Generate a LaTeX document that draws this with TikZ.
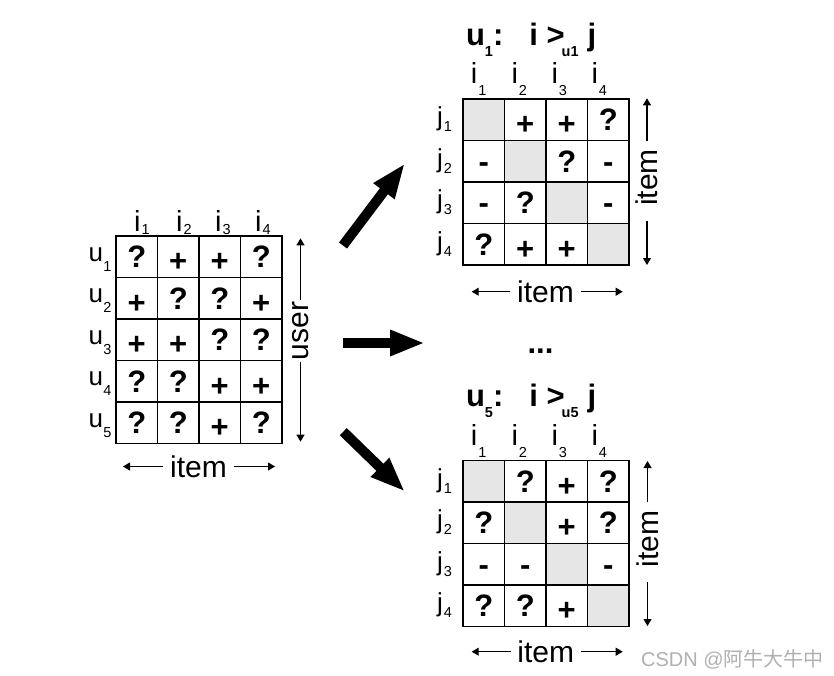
\documentclass[tikz,border=0pt]{standalone}
\usepackage{fontspec}
\setmainfont{Liberation Sans}
\newfontfamily\cjk{Noto Sans CJK SC}
\usetikzlibrary{arrows.meta}
\definecolor{ce6e6e6}{RGB}{230,230,230}
\definecolor{cb0b0b0}{RGB}{176,176,176}
\newcommand{\lsub}[2]{\raisebox{-#1pt}{\fontsize{14.5}{14.5}\selectfont #2}}
\newcommand{\pls}{\raisebox{-4pt}{+}}

\begin{document}
\begin{tikzpicture}[x=1pt,y=-1pt,
  collab/.style={inner sep=0pt,anchor=base west,font=\fontsize{29}{29}\selectfont},
  ulab/.style={inner sep=0pt,anchor=base west,font=\fontsize{26}{26}\selectfont},
  jlab/.style={inner sep=0pt,anchor=base west,font=\fontsize{26}{26}\selectfont},
  ttl/.style={inner sep=0pt,anchor=base west,font=\bfseries\fontsize{31}{31}\selectfont},
  axis/.style={inner sep=0pt,inner xsep=6.5pt,font=\fontsize{30}{30}\selectfont},
  axarr/.style={line width=1.1pt,-{Triangle[length=7pt,width=8pt]}},
  bigarr/.style={line width=10pt,-{Triangle[length=35pt,width=24pt]}}]

\path[fill=white,use as bounding box] (0,0) rectangle (834,676);

% user x item matrix
\begin{scope}[every node/.style={draw,minimum size=41.5pt,line width=1.1pt,inner sep=0pt,font=\bfseries\fontsize{31}{31}\selectfont,text height=22pt,text depth=0pt}]
\node (a11) at (136.75,256.75) {?};
\node (a12) at (178.25,256.75) {\pls};
\node (a13) at (219.75,256.75) {\pls};
\node (a14) at (261.25,256.75) {?};
\node (a21) at (136.75,298.25) {\pls};
\node (a22) at (178.25,298.25) {?};
\node (a23) at (219.75,298.25) {?};
\node (a24) at (261.25,298.25) {\pls};
\node (a31) at (136.75,339.75) {\pls};
\node (a32) at (178.25,339.75) {\pls};
\node (a33) at (219.75,339.75) {?};
\node (a34) at (261.25,339.75) {?};
\node (a41) at (136.75,381.25) {?};
\node (a42) at (178.25,381.25) {?};
\node (a43) at (219.75,381.25) {\pls};
\node (a44) at (261.25,381.25) {\pls};
\node (a51) at (136.75,422.75) {?};
\node (a52) at (178.25,422.75) {?};
\node (a53) at (219.75,422.75) {\pls};
\node (a54) at (261.25,422.75) {?};
\end{scope}

% u1: item x item
\begin{scope}[every node/.style={draw,minimum size=41.5pt,line width=1.1pt,inner sep=0pt,font=\bfseries\fontsize{31}{31}\selectfont,text height=22pt,text depth=0pt}]
\node[fill=ce6e6e6] (b11) at (483.75,119.75) {};
\node (b12) at (525.25,119.75) {\pls};
\node (b13) at (566.75,119.75) {\pls};
\node (b14) at (608.25,119.75) {?};
\node (b21) at (483.75,161.25) {-};
\node[fill=ce6e6e6] (b22) at (525.25,161.25) {};
\node (b23) at (566.75,161.25) {?};
\node (b24) at (608.25,161.25) {-};
\node (b31) at (483.75,202.75) {-};
\node (b32) at (525.25,202.75) {?};
\node[fill=ce6e6e6] (b33) at (566.75,202.75) {};
\node (b34) at (608.25,202.75) {-};
\node (b41) at (483.75,244.25) {?};
\node (b42) at (525.25,244.25) {\pls};
\node (b43) at (566.75,244.25) {\pls};
\node[fill=ce6e6e6] (b44) at (608.25,244.25) {};
\end{scope}

% u5: item x item
\begin{scope}[every node/.style={draw,minimum size=41.5pt,line width=1.1pt,inner sep=0pt,font=\bfseries\fontsize{31}{31}\selectfont,text height=22pt,text depth=0pt}]
\node[fill=ce6e6e6] (c11) at (483.75,481.25) {};
\node (c12) at (525.25,481.25) {?};
\node (c13) at (566.75,481.25) {\pls};
\node (c14) at (608.25,481.25) {?};
\node (c21) at (483.75,522.75) {?};
\node[fill=ce6e6e6] (c22) at (525.25,522.75) {};
\node (c23) at (566.75,522.75) {\pls};
\node (c24) at (608.25,522.75) {?};
\node (c31) at (483.75,564.25) {-};
\node (c32) at (525.25,564.25) {-};
\node[fill=ce6e6e6] (c33) at (566.75,564.25) {};
\node (c34) at (608.25,564.25) {-};
\node (c41) at (483.75,605.75) {?};
\node (c42) at (525.25,605.75) {?};
\node (c43) at (566.75,605.75) {\pls};
\node[fill=ce6e6e6] (c44) at (608.25,605.75) {};
\end{scope}

% column and row labels
\node[collab] (ai1) at (134,231.5) {i\kern1pt\lsub{3}{1}};
\node[collab] (ai2) at (176,231.5) {i\kern1pt\lsub{3}{2}};
\node[collab] (ai3) at (215,231.5) {i\kern1pt\lsub{3}{3}};
\node[collab] (ai4) at (255,231.5) {i\kern1pt\lsub{3}{4}};
\node[ulab] (au1) at (88.3,261.25) {u\kern0.5pt\lsub{10}{1}};
\node[ulab] (au2) at (88.3,302.75) {u\kern0.5pt\lsub{10}{2}};
\node[ulab] (au3) at (88.3,344.25) {u\kern0.5pt\lsub{10}{3}};
\node[ulab] (au4) at (88.3,385.75) {u\kern0.5pt\lsub{10}{4}};
\node[ulab] (au5) at (88.3,427.25) {u\kern0.5pt\lsub{10}{5}};

\node[collab] (bi1) at (470.7,83.3) {i\kern1pt\lsub{12.5}{1}};
\node[collab] (bi2) at (511.3,83.3) {i\kern1pt\lsub{12.5}{2}};
\node[collab] (bi3) at (551.3,83.3) {i\kern1pt\lsub{12.5}{3}};
\node[collab] (bi4) at (591.3,83.3) {i\kern1pt\lsub{12.5}{4}};
\node[jlab] (bj1) at (437,125.75) {j\kern1pt\lsub{6}{1}};
\node[jlab] (bj2) at (437,167.25) {j\kern1pt\lsub{6}{2}};
\node[jlab] (bj3) at (437,208.75) {j\kern1pt\lsub{6}{3}};
\node[jlab] (bj4) at (437,250.25) {j\kern1pt\lsub{6}{4}};

\node[collab] (ci1) at (470.7,445) {i\kern1pt\lsub{12.5}{1}};
\node[collab] (ci2) at (511.3,445) {i\kern1pt\lsub{12.5}{2}};
\node[collab] (ci3) at (551.3,445) {i\kern1pt\lsub{12.5}{3}};
\node[collab] (ci4) at (591.3,445) {i\kern1pt\lsub{12.5}{4}};
\node[jlab] (cj1) at (437,487.25) {j\kern1pt\lsub{6}{1}};
\node[jlab] (cj2) at (437,528.75) {j\kern1pt\lsub{6}{2}};
\node[jlab] (cj3) at (437,570.25) {j\kern1pt\lsub{6}{3}};
\node[jlab] (cj4) at (437,611.75) {j\kern1pt\lsub{6}{4}};

% titles
\node[ttl] (ttlb) at (465.8,46) {u\lsub{10.5}{1}:\hspace{26pt}i >\kern-3pt\lsub{10.5}{u1}\hspace{9pt}j};
\node[ttl] (ttlc) at (465.8,406.7) {u\lsub{11}{5}:\hspace{26pt}i >\kern-3pt\lsub{11}{u5}\hspace{9pt}j};
\node[inner sep=0pt,anchor=base,font=\bfseries\fontsize{31}{31}\selectfont] (dots) at (540.5,353) {...};

% axis labels
\node[axis] (itema) at (198.5,466.5) {item};
\coordinate (itemal) at (123,466.5);
\coordinate (itemar) at (275,466.5);
\draw[axarr] (itema.west) -- (itemal);
\draw[axarr] (itema.east) -- (itemar);

\node[axis,inner xsep=1.5pt,rotate=90] (user) at (300.5,330.85) {user};
\coordinate (usert) at (300.5,238.3);
\coordinate (userb) at (300.5,441.7);
\draw[axarr] (user.east) -- (usert);
\draw[axarr] (user.west) -- (userb);

\node[axis] (itemb) at (545.5,291.7) {item};
\coordinate (itembl) at (471.7,291.7);
\coordinate (itembr) at (622.7,291.7);
\draw[axarr] (itemb.west) -- (itembl);
\draw[axarr] (itemb.east) -- (itembr);

\node[axis,inner xsep=8pt,rotate=90] (itembv) at (647,180.85) {\hspace{6.7pt}item};
\coordinate (itembt) at (647,98.3);
\coordinate (itembb) at (647,265);
\draw[axarr] (itembv.east) -- (itembt);
\draw[axarr] (itembv.west) -- (itembb);

\node[axis] (itemc) at (545.8,651.7) {item};
\coordinate (itemcl) at (471.7,651.7);
\coordinate (itemcr) at (622.7,651.7);
\draw[axarr] (itemc.west) -- (itemcl);
\draw[axarr] (itemc.east) -- (itemcr);

\node[axis,inner xsep=8pt,rotate=90] (itemcv) at (647.5,542.35) {\hspace{6.7pt}item};
\coordinate (itemct) at (647.5,461);
\coordinate (itemcb) at (647.5,626);
\draw[axarr] (itemcv.east) -- (itemct);
\draw[axarr] (itemcv.west) -- (itemcb);

% big arrows
\coordinate (up0) at (343,245.5);
\coordinate (up1) at (405,163.3);
\coordinate (mid0) at (343.3,343);
\coordinate (mid1) at (425,343);
\coordinate (low0) at (343.3,431.7);
\coordinate (low1) at (405,491.7);
\draw[bigarr] (up0) to (up1);
\draw[bigarr] (mid0) to (mid1);
\draw[bigarr] (low0) to (low1);

\node[inner sep=0pt,anchor=base west,text=cb0b0b0,font=\fontsize{20}{20}\selectfont] (mark) at (641,666) {CSDN @{\cjk 阿牛大牛中}};

\end{tikzpicture}
\end{document}
